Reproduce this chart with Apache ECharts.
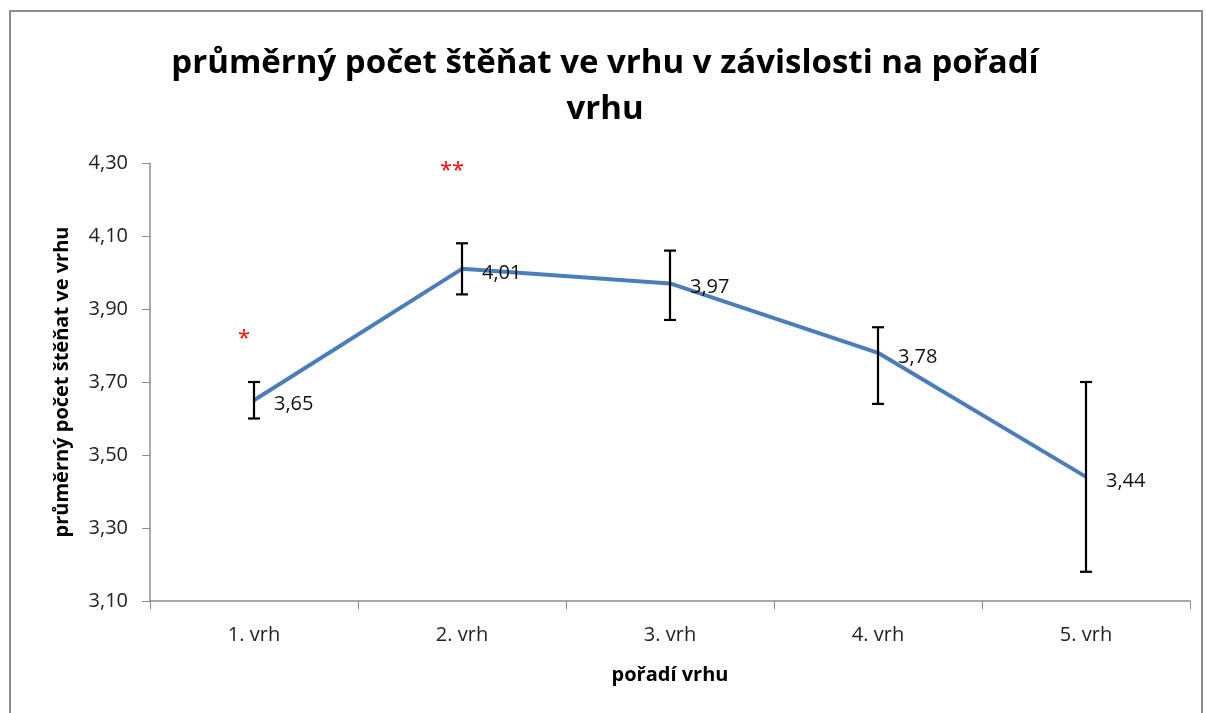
<!DOCTYPE html>
<html>
<head>
<meta charset="utf-8">
<script src="https://cdn.jsdelivr.net/npm/echarts@6/dist/echarts.min.js"></script>
<style>
  html, body { margin: 0; padding: 0; background: #fff; }
  #chart { width: 1206px; height: 713px; }
  .frame {
    position: absolute; left: 9px; top: 10px; width: 1194px; height: 720px;
    border: 2px solid #8c8c8c; box-sizing: border-box; pointer-events: none;
  }
</style>
</head>
<body>
<div id="chart"></div>
<div class="frame"></div>
<script>
// data
const categories = ["1. vrh", "2. vrh", "3. vrh", "4. vrh", "5. vrh"];
const means = [3.65, 4.01, 3.97, 3.78, 3.44];
const errLow = [3.60, 3.94, 3.87, 3.64, 3.18];
const errHigh = [3.70, 4.08, 4.06, 3.85, 3.70];
const starLabels = ["*", "**"];
const starCats = [0, 1];
const starValues = [3.83, 4.29];

const fmt = v => v.toFixed(2).replace(".", ",");

const chart = echarts.init(document.getElementById("chart"));
chart.setOption({
  animation: false,
  textStyle: { fontFamily: "Open Sans" },
  title: {
    text: "průměrný počet štěňat ve vrhu v závislosti na pořadí\nvrhu",
    left: 600,
    top: 36,
    textAlign: "center",
    textStyle: {
      fontFamily: "Open Sans",
      fontWeight: "bold",
      fontSize: 33,
      lineHeight: 46,
      color: "#000"
    }
  },
  grid: { left: 150, right: 16, top: 163, bottom: 112 },
  xAxis: {
    type: "category",
    data: categories,
    boundaryGap: true,
    name: "pořadí vrhu",
    nameLocation: "middle",
    nameGap: 64,
    nameTextStyle: { fontWeight: "bold", fontSize: 20, color: "#000" },
    axisLine: { lineStyle: { color: "#8c8c8c", width: 1.5 } },
    axisTick: { show: true, length: 8, lineStyle: { color: "#8c8c8c" } },
    axisLabel: { fontSize: 20, color: "#222", margin: 24 },
    splitLine: { show: false }
  },
  yAxis: {
    type: "value",
    min: 3.1,
    max: 4.3,
    interval: 0.2,
    name: "průměrný počet štěňat ve vrhu",
    nameLocation: "middle",
    nameGap: 78,
    nameRotate: 90,
    nameTextStyle: { fontWeight: "bold", fontSize: 20, color: "#000" },
    axisLine: { show: true, lineStyle: { color: "#8c8c8c", width: 1.5 } },
    axisTick: { show: true, inside: false, length: 8, lineStyle: { color: "#8c8c8c" } },
    axisLabel: { fontSize: 20, color: "#222", margin: 22, formatter: v => fmt(v) },
    splitLine: { show: false }
  },
  series: [
    {
      type: "line",
      data: means,
      symbol: "none",
      lineStyle: { color: "#4a7ebb", width: 4 },
      z: 2
    },
    {
      // popisky hodnot
      type: "scatter",
      symbolSize: 0,
      z: 4,
      itemStyle: { opacity: 1 },
      data: means.map((v, i) => [i, v]),
      label: {
        show: true,
        position: "right",
        distance: 20,
        offset: [0, 4],
        fontSize: 20,
        color: "#111",
        opacity: 1,
        formatter: p => fmt(p.value[1])
      }
    },
    {
      type: "custom",
      z: 3,
      data: categories.map((c, i) => [i, errLow[i], errHigh[i]]),
      renderItem: (params, api) => {
        const lo = api.coord([api.value(0), api.value(1)]);
        const hi = api.coord([api.value(0), api.value(2)]);
        const cap = 6;
        const st = { stroke: "#000", lineWidth: 2.2 };
        return {
          type: "group",
          children: [
            { type: "line", shape: { x1: lo[0], y1: lo[1], x2: hi[0], y2: hi[1] }, style: st },
            { type: "line", shape: { x1: lo[0] - cap, y1: lo[1], x2: lo[0] + cap, y2: lo[1] }, style: st },
            { type: "line", shape: { x1: hi[0] - cap, y1: hi[1], x2: hi[0] + cap, y2: hi[1] }, style: st }
          ]
        };
      }
    },
    {
      type: "scatter",
      symbolSize: 0,
      itemStyle: { opacity: 1 },
      data: starCats.map((c, i) => ({ value: [c, starValues[i]], name: starLabels[i] })),
      label: {
        show: true,
        position: "inside",
        formatter: p => p.name,
        color: "#ff0000",
        opacity: 1,
        fontSize: 22,
        offset: [-10, 4]
      }
    }
  ]
});
</script>
</body>
</html>
